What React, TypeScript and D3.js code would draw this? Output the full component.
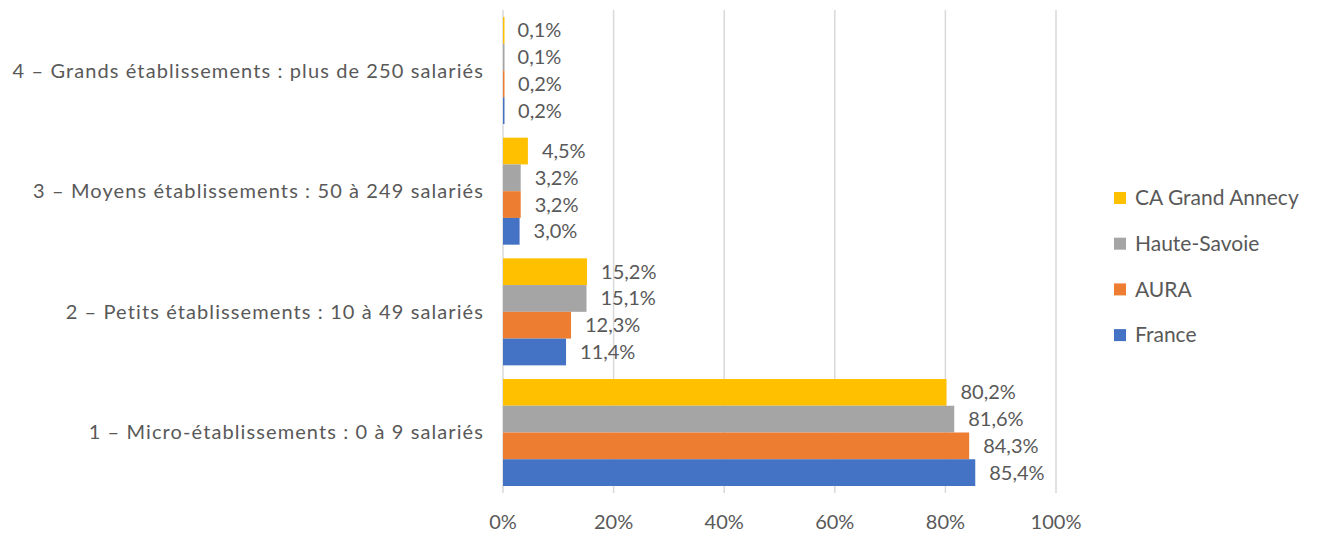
import * as d3 from 'd3';

// categories top to bottom, as in the picture
const categories = [
  '4 – Grands établissements : plus de 250 salariés',
  '3 – Moyens établissements : 50 à 249 salariés',
  '2 – Petits établissements : 10 à 49 salariés',
  '1 – Micro-établissements : 0 à 9 salariés',
];

// series in the order they stack inside a group (top first)
const seriesNames = ['CA Grand Annecy', 'Haute-Savoie', 'AURA', 'France'];
const seriesColors = ['#FFC000', '#A5A5A5', '#ED7D31', '#4472C4'];

// values per series, same order as categories (in %)
const caGrandAnnecy = [0.1, 4.5, 15.2, 80.2];
const hauteSavoie = [0.1, 3.2, 15.1, 81.6];
const aura = [0.2, 3.2, 12.3, 84.3];
const france = [0.2, 3.0, 11.4, 85.4];

const seriesValues = [caGrandAnnecy, hauteSavoie, aura, france];

const xTicks = [0, 20, 40, 60, 80, 100];

const W = 1318;
const H = 534;
const FONT = 'Lato, "Open Sans", sans-serif';
const TXT = '#595959';

export default function App() {
  const x = d3.scaleLinear().domain([0, 100]).range([503, 1056]);
  const y = d3
    .scaleBand<string>()
    .domain(categories)
    .range([10, 493])
    .paddingInner(0.113)
    .paddingOuter(0.058);
  const ySub = d3
    .scaleBand<string>()
    .domain(seriesNames)
    .range([0, y.bandwidth()]);

  const fmt = (v: number) => v.toFixed(1).replace('.', ',') + '%';

  return (
    <div style={{ position: 'fixed', left: 0, top: 0 }}>
      <svg width={W} height={H} style={{ display: 'block', background: '#fff' }}>
        {/* grid */}
        {xTicks.map((t) => (
          <line
            key={'g' + t}
            x1={x(t)}
            x2={x(t)}
            y1={10}
            y2={493}
            stroke="#D9D9D9"
            strokeWidth={1.5}
          />
        ))}

        {/* bars */}
        {categories.map((c, ci) =>
          seriesNames.map((s, si) => {
            const v = seriesValues[si][ci];
            const yy = (y(c) ?? 0) + (ySub(s) ?? 0);
            return (
              <g key={c + s}>
                <rect
                  x={x(0)}
                  y={yy}
                  width={Math.max(x(v) - x(0), 1.5)}
                  height={ySub.bandwidth()}
                  fill={seriesColors[si]}
                />
                <text
                  x={x(v) + 14}
                  y={yy + ySub.bandwidth() / 2}
                  dy="0.35em"
                  fontFamily={FONT}
                  fontSize={20}
                  fill={TXT}
                >
                  {fmt(v)}
                </text>
              </g>
            );
          })
        )}

        {/* category labels */}
        {categories.map((c) => (
          <text
            key={'c' + c}
            x={484}
            y={(y(c) ?? 0) + y.bandwidth() / 2}
            dy="0.35em"
            textAnchor="end"
            fontFamily={FONT}
            fontSize={20}
            letterSpacing={1.1}
            fill={TXT}
          >
            {c}
          </text>
        ))}

        {/* x tick labels */}
        {xTicks.map((t) => (
          <text
            key={'t' + t}
            x={x(t)}
            y={522}
            dy="0.35em"
            textAnchor="middle"
            fontFamily={FONT}
            fontSize={20}
            fill={TXT}
          >
            {t + '%'}
          </text>
        ))}

        {/* legend */}
        {seriesNames.map((s, i) => (
          <g key={'l' + s} transform={`translate(1114, ${198 + i * 45.7})`}>
            <rect x={0} y={-6} width={12} height={12} fill={seriesColors[i]} />
            <text
              x={21}
              y={0}
              dy="0.35em"
              fontFamily={FONT}
              fontSize={21}
              fill={TXT}
            >
              {s}
            </text>
          </g>
        ))}
      </svg>
    </div>
  );
}
